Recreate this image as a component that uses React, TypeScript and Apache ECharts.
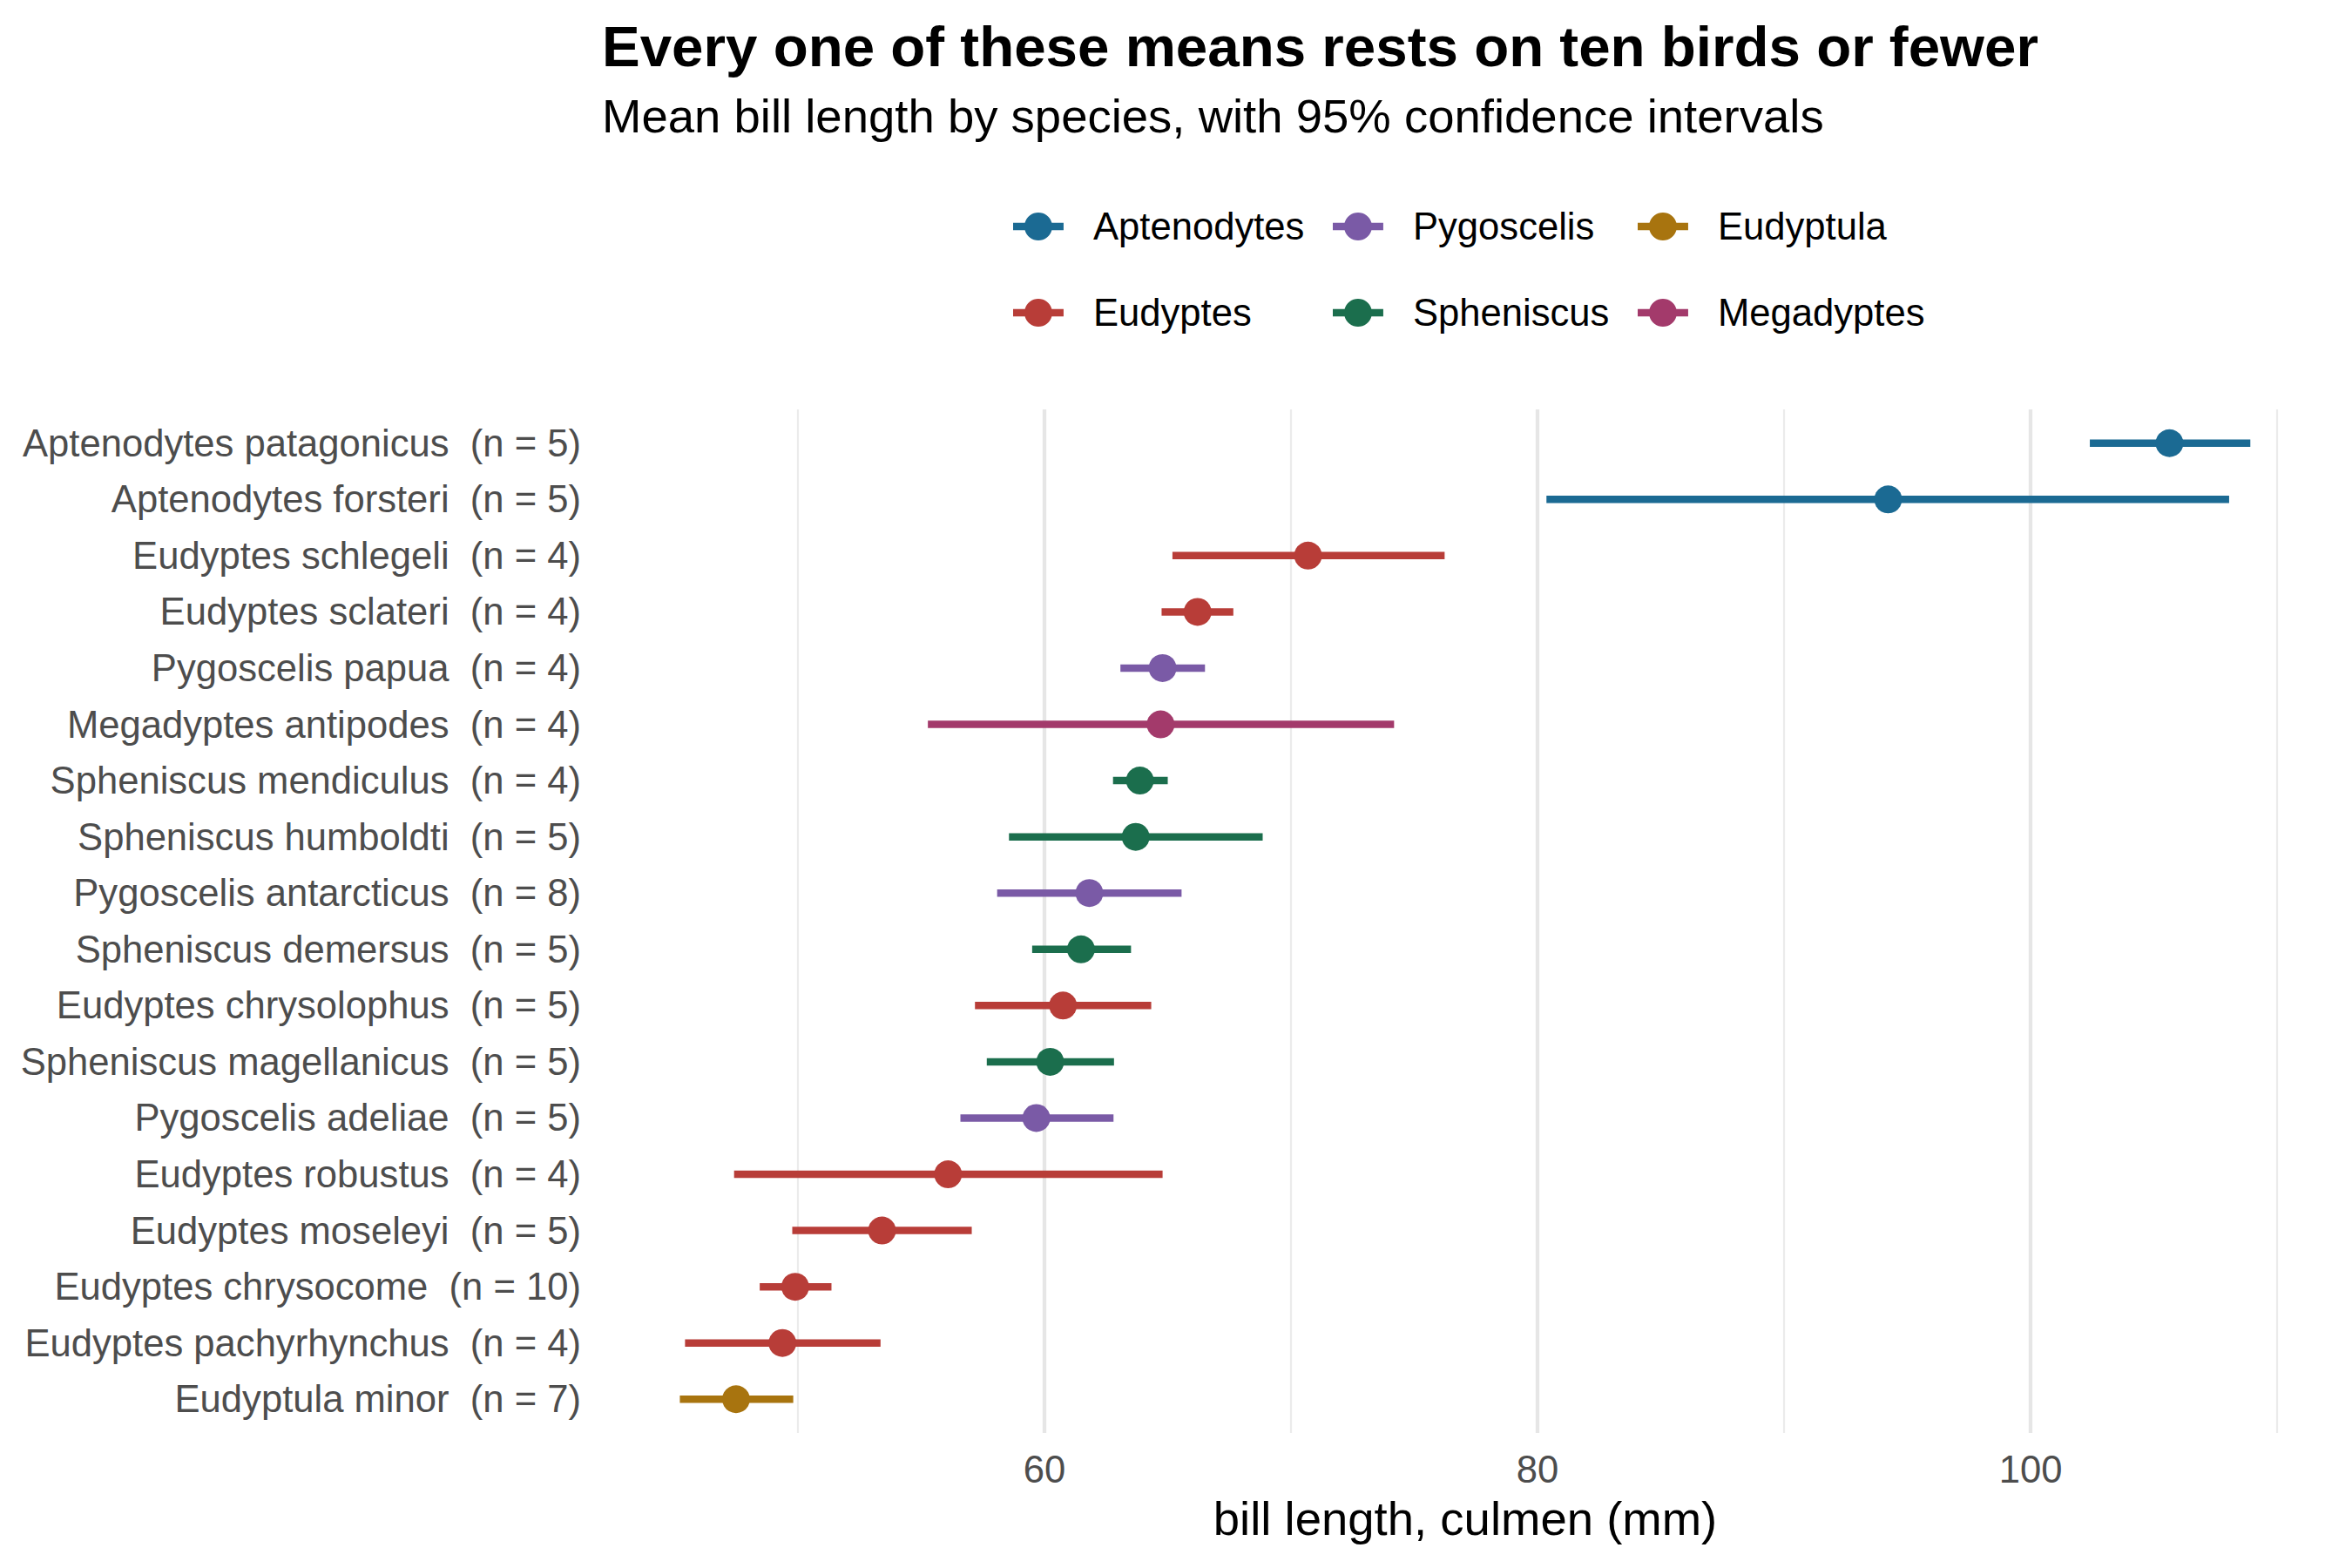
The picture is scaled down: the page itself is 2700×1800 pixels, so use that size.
import React, { useEffect, useRef } from "react";
import * as echarts from "echarts";

// ---- data (top to bottom) ----
const species = [
  "Aptenodytes patagonicus",
  "Aptenodytes forsteri",
  "Eudyptes schlegeli",
  "Eudyptes sclateri",
  "Pygoscelis papua",
  "Megadyptes antipodes",
  "Spheniscus mendiculus",
  "Spheniscus humboldti",
  "Pygoscelis antarcticus",
  "Spheniscus demersus",
  "Eudyptes chrysolophus",
  "Spheniscus magellanicus",
  "Pygoscelis adeliae",
  "Eudyptes robustus",
  "Eudyptes moseleyi",
  "Eudyptes chrysocome",
  "Eudyptes pachyrhynchus",
  "Eudyptula minor",
];
const counts = [5, 5, 4, 4, 4, 4, 4, 5, 8, 5, 5, 5, 5, 4, 5, 10, 4, 7];
const genusOf = [
  "Aptenodytes", "Aptenodytes", "Eudyptes", "Eudyptes", "Pygoscelis", "Megadyptes",
  "Spheniscus", "Spheniscus", "Pygoscelis", "Spheniscus", "Eudyptes", "Spheniscus",
  "Pygoscelis", "Eudyptes", "Eudyptes", "Eudyptes", "Eudyptes", "Eudyptula",
];
const means = [
  105.63, 94.22, 70.69, 66.21, 64.79, 64.71, 63.87, 63.7, 61.82, 61.48, 60.75, 60.23,
  59.67, 56.09, 53.41, 49.89, 49.37, 47.49,
];
const lowers = [
  102.4, 80.36, 65.19, 64.75, 63.08, 55.27, 62.78, 58.56, 58.08, 59.5, 57.18, 57.66,
  56.59, 47.41, 49.77, 48.45, 45.42, 45.21,
];
const uppers = [
  108.91, 108.05, 76.23, 67.66, 66.51, 74.18, 65.0, 68.85, 65.56, 63.51, 64.33, 62.82,
  62.8, 64.79, 57.05, 51.36, 53.35, 49.81,
];
const genera = ["Aptenodytes", "Eudyptes", "Pygoscelis", "Spheniscus", "Eudyptula", "Megadyptes"];
const genusColors = ["#1b6a93", "#b83d38", "#7a5aa6", "#1b6e4d", "#a8740f", "#a33a6b"];
const xTicks = [60, 80, 100];
const xMinorGrid = [50, 70, 90, 110];

const FONT = "'Liberation Sans', Arial, Helvetica, sans-serif";

const legendIcon =
  "path://M0,-4.25 L13.57,-4.25 A16,16 0 0 1 44.43,-4.25 L58,-4.25 L58,4.25 L44.43,4.25 A16,16 0 0 1 13.57,4.25 L0,4.25 Z";

export default function App() {
  const ref = useRef<HTMLDivElement>(null);

  useEffect(() => {
    document.body.style.margin = "0";
    const chart = echarts.init(ref.current!, undefined, { renderer: "svg" });

    const labels = species.map((s, i) => `${s}  (n = ${counts[i]})`);

    const seriesList: any[] = genera.map((g, gi) => {
      const color = genusColors[gi];
      const data: number[][] = [];
      species.forEach((_, i) => {
        if (genusOf[i] === g) data.push([lowers[i], uppers[i], means[i], i]);
      });
      return {
        type: "custom",
        name: g,
        itemStyle: { color },
        encode: { x: [0, 1, 2], y: 3 },
        z: 10,
        data,
        renderItem: (params: any, api: any) => {
          const y = api.value(3);
          const p1 = api.coord([api.value(0), y]);
          const p2 = api.coord([api.value(1), y]);
          const pm = api.coord([api.value(2), y]);
          return {
            type: "group",
            children: [
              {
                type: "line",
                shape: { x1: p1[0], y1: p1[1], x2: p2[0], y2: p2[1] },
                style: { stroke: color, lineWidth: 8.5, lineCap: "butt" },
              },
              {
                type: "circle",
                shape: { cx: pm[0], cy: pm[1], r: 16 },
                style: { fill: color },
              },
            ],
          };
        },
      };
    });

    seriesList.unshift({
      type: "scatter",
      name: "__grid",
      data: [],
      silent: true,
      z: 1,
      markLine: {
        silent: true,
        z: 1,
        zlevel: 0,
        symbol: ["none", "none"],
        label: { show: false },
        animation: false,
        data: [
          ...xTicks.map((v) => ({ xAxis: v, lineStyle: { color: "#e6e6e6", width: 4.3, type: "solid" } })),
          ...xMinorGrid.map((v) => ({ xAxis: v, lineStyle: { color: "#ebebeb", width: 2.2, type: "solid" } })),
        ],
      },
    });

    const legendPos: [string, number, number][] = [
      ["Aptenodytes", 1163, 238],
      ["Eudyptes", 1163, 337],
      ["Pygoscelis", 1530, 238],
      ["Spheniscus", 1530, 337],
      ["Eudyptula", 1880, 238],
      ["Megadyptes", 1880, 337],
    ];

    chart.setOption({
      animation: false,
      backgroundColor: "#ffffff",
      textStyle: { fontFamily: FONT },
      title: [
        {
          text: "Every one of these means rests on ten birds or fewer",
          left: 691,
          top: 20,
          padding: 0,
          textStyle: { fontFamily: FONT, fontSize: 65.5, fontWeight: "bold", color: "#000000" },
        },
        {
          text: "Mean bill length by species, with 95% confidence intervals",
          left: 691,
          top: 106,
          padding: 0,
          textStyle: { fontFamily: FONT, fontSize: 54.5, fontWeight: "normal", color: "#000000" },
        },
      ],
      legend: legendPos.map(([name, left, top]) => {
        const gi = genera.indexOf(name);
        return {
          data: [{ name, icon: legendIcon, itemStyle: { color: genusColors[gi] } }],
          left,
          top,
          padding: 0,
          itemWidth: 58,
          itemHeight: 32,
          selectedMode: false,
          textStyle: { fontFamily: FONT, fontSize: 43.6, color: "#000000", padding: [0, 0, 0, 29] },
        };
      }),
      grid: { left: 691, right: 27, top: 470, bottom: 155, containLabel: false },
      xAxis: {
        type: "value",
        min: 42.05,
        max: 112.08,
        axisLine: { show: false },
        axisTick: { show: false },
        splitLine: { show: false },
        axisLabel: {
          customValues: xTicks,
          fontFamily: FONT,
          fontSize: 43.6,
          color: "#4d4d4d",
          margin: 20,
        },
        name: "bill length, culmen (mm)",
        nameLocation: "middle",
        nameGap: 71,
        nameTextStyle: { fontFamily: FONT, fontSize: 54.5, color: "#000000" },
      },
      yAxis: {
        type: "value",
        inverse: true,
        min: -0.6,
        max: 17.6,
        axisLine: { show: false },
        axisTick: { show: false },
        splitLine: { show: false },
        axisLabel: {
          customValues: species.map((_, i) => i),
          formatter: (v: number) => labels[Math.round(v)] ?? "",
          fontFamily: FONT,
          fontSize: 43.6,
          color: "#4d4d4d",
          margin: 24,
        },
      },
      series: seriesList,
    });

    return () => chart.dispose();
  }, []);

  return <div ref={ref} style={{ width: 2700, height: 1800, position: "absolute", left: 0, top: 0 }} />;
}
